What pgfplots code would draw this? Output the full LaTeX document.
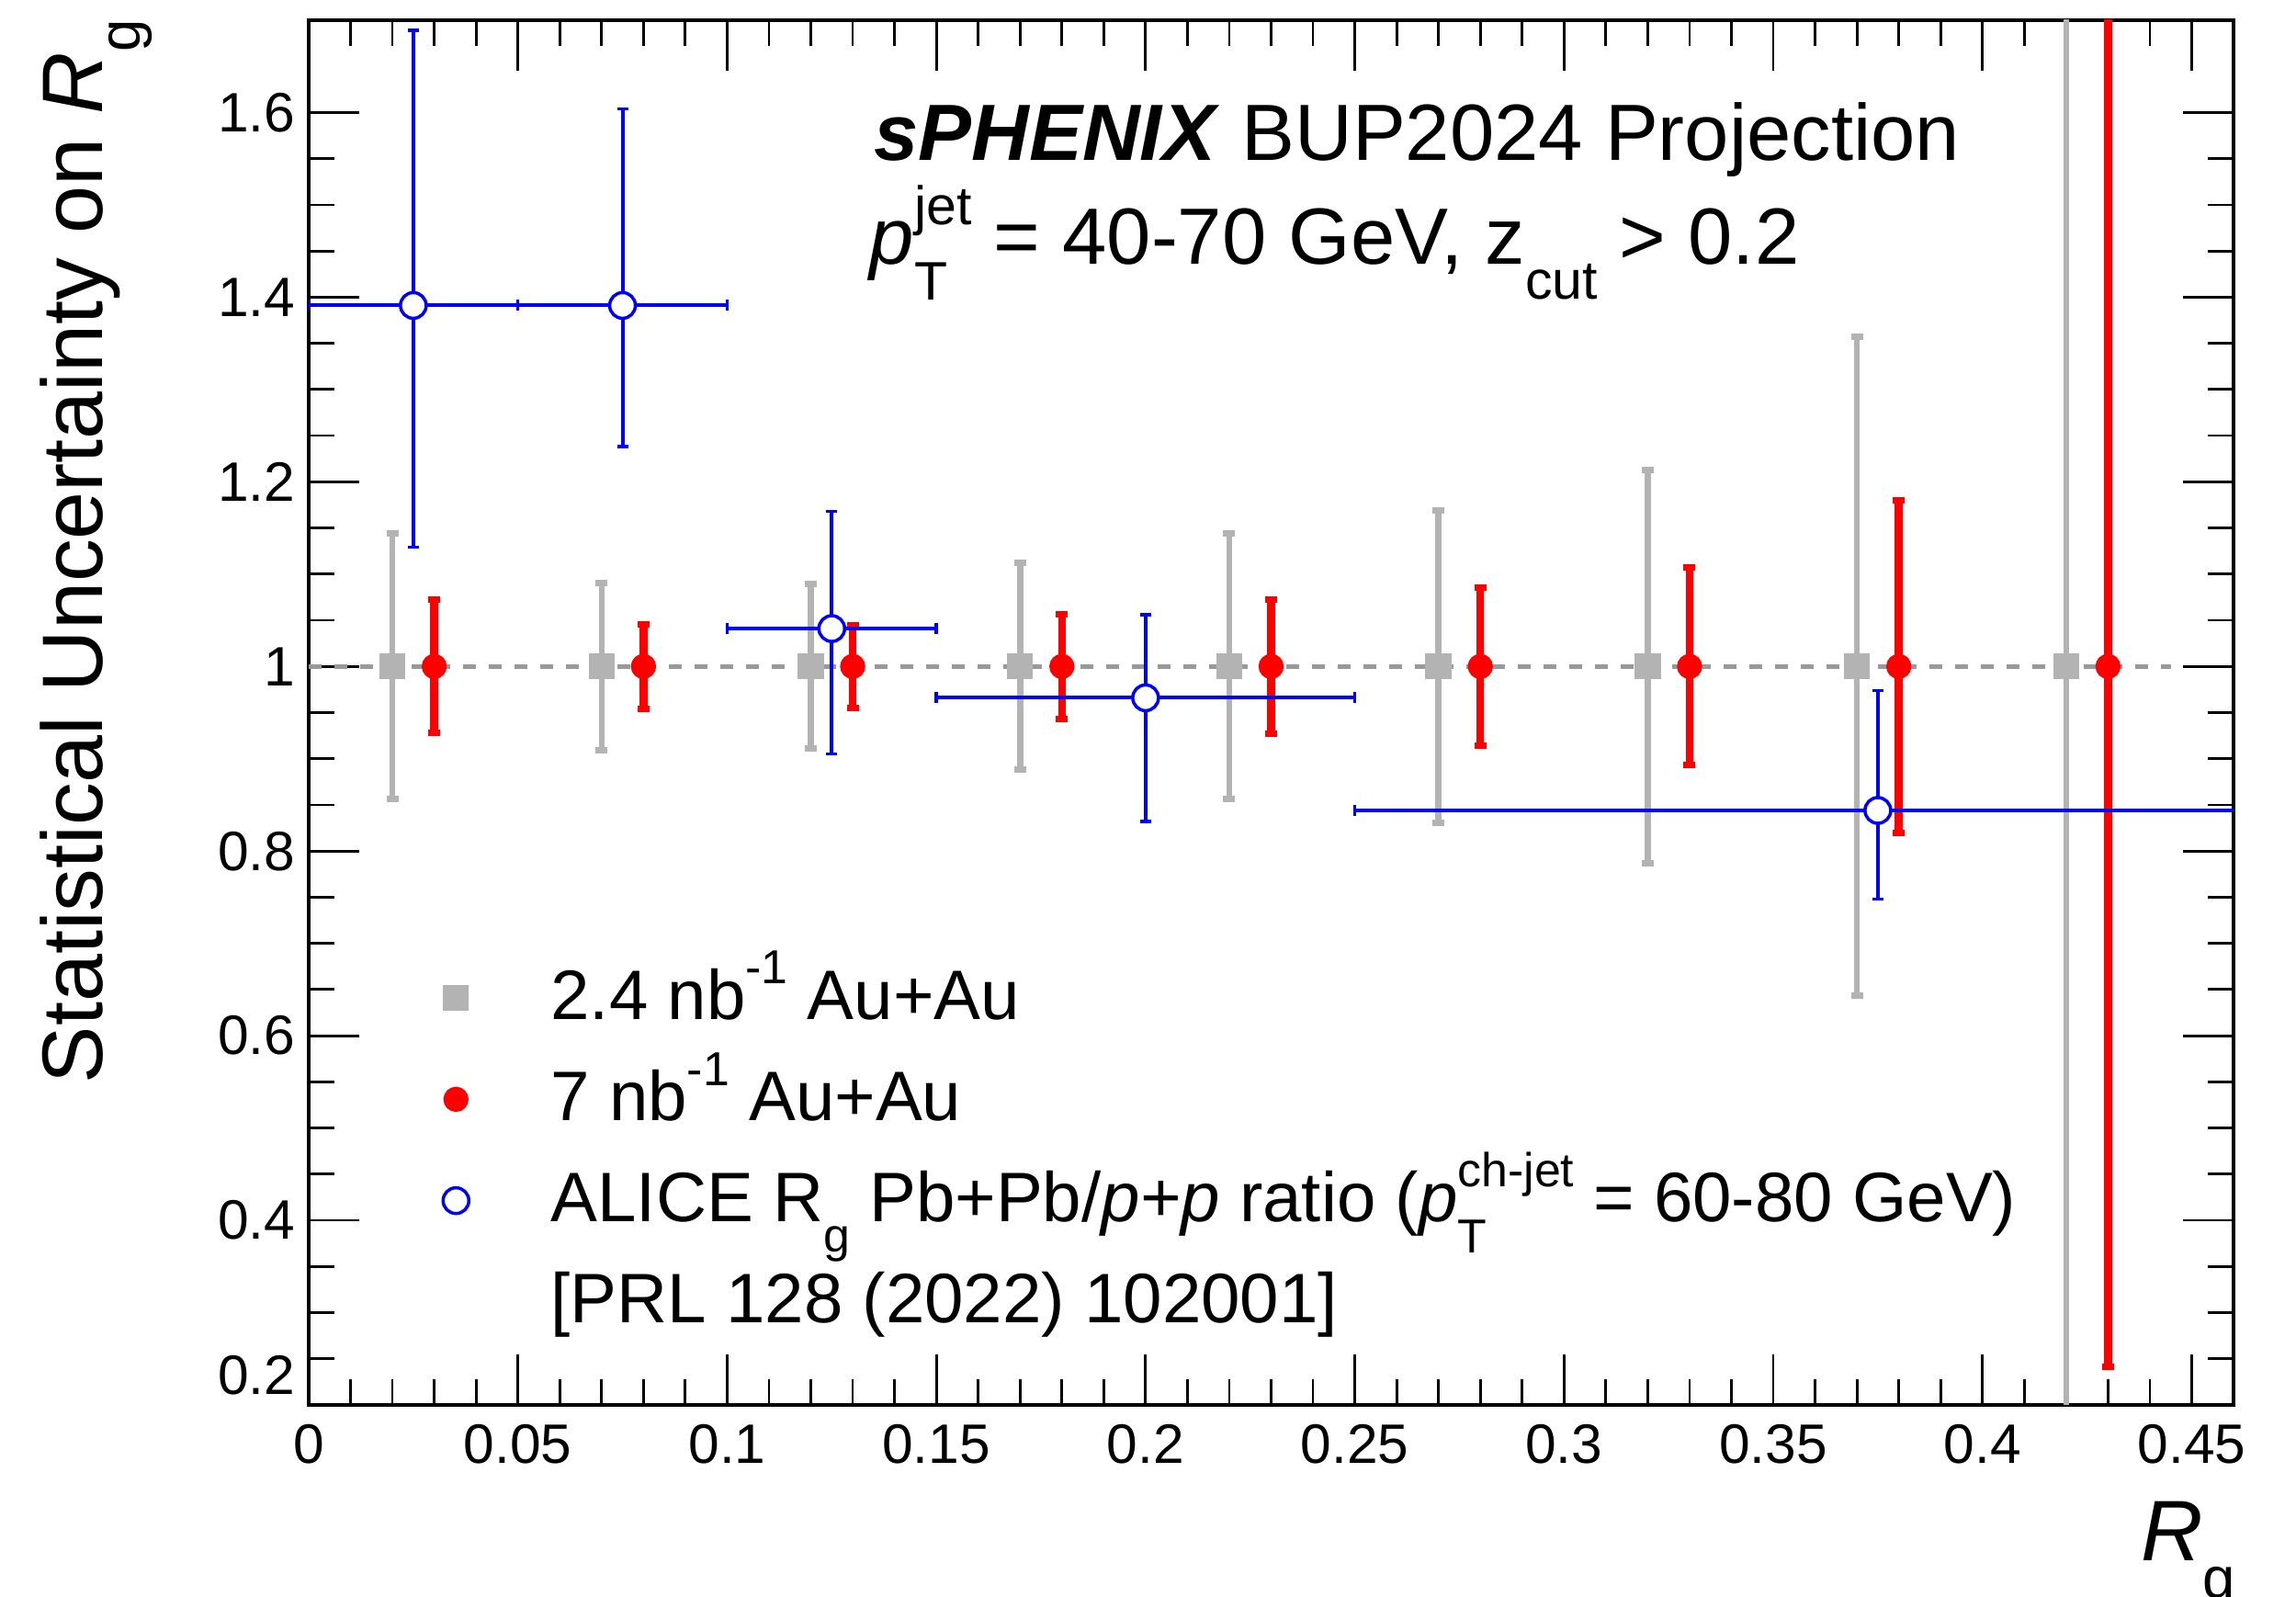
\documentclass[border=0pt]{standalone}
\usepackage{fontspec}
\setmainfont{Liberation Sans}
\usepackage{graphicx}
\usepackage{pgfplots}
\pgfplotsset{compat=1.18}

\definecolor{rgray}{RGB}{179,179,179}
\definecolor{dgray}{RGB}{153,153,153}
\definecolor{rred}{RGB}{255,0,0}
\definecolor{rblue}{RGB}{0,0,255}

\newcommand{\SupSub}[2]{\rlap{\raisebox{-0.45em}{\scalebox{0.68}{#2}}}\raisebox{0.5em}{\scalebox{0.68}{#1}}}
\newcommand{\Sub}[1]{\raisebox{-0.43em}{\scalebox{0.68}{#1}}}
\newcommand{\Sup}[1]{\raisebox{0.5em}{\scalebox{0.68}{#1}}}

\begin{document}
\begin{tikzpicture}
\path[use as bounding box] (-3.36cm,-2.08cm) rectangle (21.63cm,15.29cm);
\begin{axis}[
  at={(0,0)}, anchor=south west,
  scale only axis, width=20.95cm, height=15.07cm,
  xmin=0, xmax=0.46, ymin=0.2, ymax=1.7,
  xtick={0,0.05,0.1,0.15,0.2,0.25,0.3,0.35,0.4,0.45},
  xticklabels={0,0.05,0.1,0.15,0.2,0.25,0.3,0.35,0.4,0.45},
  ytick={0.2,0.4,0.6,0.8,1,1.2,1.4,1.6},
  yticklabels={\raisebox{0.32cm}[\height][\depth]{0.2},0.4,0.6,0.8,1,1.2,1.4,1.6},
  minor x tick num=4, minor y tick num=3,
  tick align=inside,
  major tick length=0.55cm, minor tick length=0.28cm,
  every tick/.style={black, line width=0.8pt},
  axis line style={line width=1.2pt},
  xticklabel style={anchor=base, inner sep=0pt, yshift=-0.64cm, font=\fontsize{17.2}{20}\selectfont},
  yticklabel style={anchor=east, inner sep=0pt, xshift=-0.14cm, font=\fontsize{17.2}{20}\selectfont},
  xlabel={\textit{R}\Sub{g}},
  x label style={at={(axis description cs:1.0014,-0.1128)}, anchor=base east, inner sep=0pt, font=\fontsize{26.6}{31}\selectfont},
  ylabel={Statistical Uncertainty on \textit{R}\Sub{g}},
  y label style={at={(axis description cs:-0.10692,1.0007)}, rotate=0, anchor=base east, inner sep=0pt, font=\fontsize{26.6}{31}\selectfont},
  legend cell align=left,
  legend style={at={(0.0622,0.3198)}, anchor=north west, draw=none, fill=none,
    inner sep=0pt, outer sep=0pt, row sep=0.323cm,
    font=\fontsize{21.7}{26}\selectfont,
    nodes={inner sep=0pt, text height=0.62cm, text depth=0.16cm},
    /tikz/every odd column/.append style={column sep=0.8925cm}},
]
\addplot[dgray, line width=0.05cm, dash pattern=on 0.14cm off 0.14cm, forget plot]
  coordinates {(0,1) (0.445,1)};

\addplot[only marks, mark=square*, mark size=0.135cm, color=rgray,
  mark options={draw=rgray, fill=rgray},
  error bars/.cd, y dir=both, y explicit,
  error bar style={line width=0.066cm, rgray},
  error mark options={rotate=90, rgray, line width=0.07cm, mark size=0.065cm}]
  coordinates {
  (0.02,1) +- (0,0.1436)
  (0.07,1) +- (0,0.0905)
  (0.12,1) +- (0,0.089)
  (0.17,1) +- (0,0.112)
  (0.22,1) +- (0,0.144)
  (0.27,1) +- (0,0.169)
  (0.32,1) +- (0,0.213)
  (0.37,1) +- (0,0.357)
  (0.42,1) +- (0,1.2)
  };
\addlegendentry{2.4 nb\Sup{-1} Au+Au}

\addplot[only marks, mark=*, mark size=0.13cm, color=rred,
  mark options={draw=rred, fill=rred},
  error bars/.cd, y dir=both, y explicit,
  error bar style={line width=0.085cm, rred},
  error mark options={rotate=90, rred, line width=0.07cm, mark size=0.065cm}]
  coordinates {
  (0.03,1) +- (0,0.0722)
  (0.08,1) +- (0,0.0456)
  (0.13,1) +- (0,0.0447)
  (0.18,1) +- (0,0.0566)
  (0.23,1) +- (0,0.0725)
  (0.28,1) +- (0,0.0855)
  (0.33,1) +- (0,0.107)
  (0.38,1) +- (0,0.180)
  (0.43,1) +- (0,0.759)
  };
\addlegendentry{7 nb\Sup{-1} Au+Au}

\addplot[only marks, mark=*, mark size=0.14cm, color=rblue,
  mark options={draw=rblue, fill=white, line width=0.035cm},
  error bars/.cd, x dir=both, x explicit, y dir=both, y explicit,
  error bar style={line width=0.04cm, rblue},
  error mark options={rotate=90, rblue, line width=0.035cm, mark size=0.06cm}]
  coordinates {
  (0.025,1.391) += (0.025,0.298) -= (0.025,0.262)
  (0.075,1.391) += (0.025,0.213) -= (0.025,0.153)
  (0.125,1.041) += (0.025,0.127) -= (0.025,0.136)
  (0.2,0.966) += (0.05,0.090) -= (0.05,0.134)
  (0.375,0.844) += (0.125,0.130) -= (0.125,0.096)
  };
\addlegendentry{ALICE R\Sub{g} Pb+Pb/\textit{p+p} ratio (\textit{p}\SupSub{ch-jet}{T} = 60-80 GeV)}
\addlegendimage{empty legend}
\addlegendentry{[PRL 128 (2022) 102001]}

\node[anchor=base west, inner sep=0pt, font=\fontsize{24.7}{30}\selectfont] at (axis cs:0.135,1.5477)
  {\textbf{\textit{sPHENIX}} BUP2024 Projection};
\node[anchor=base west, inner sep=0pt, font=\fontsize{24.7}{30}\selectfont] at (axis cs:0.134,1.4353)
  {\textit{p}\SupSub{jet}{T} = 40-70 GeV, z\Sub{cut} > 0.2};
\end{axis}
\end{tikzpicture}
\end{document}
